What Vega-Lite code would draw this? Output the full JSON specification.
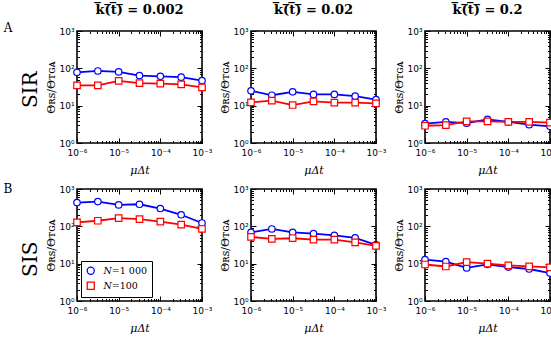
{
 "$schema": "https://vega.github.io/schema/vega-lite/v6.json",
 "padding": {"left": 3, "right": 0, "top": 3, "bottom": 0},
 "data": {"values": [
  {"model":"SIR","k":"0.002","N":"N=1 000","mu":1e-6,"theta":78},
  {"model":"SIR","k":"0.002","N":"N=1 000","mu":3.1623e-6,"theta":85},
  {"model":"SIR","k":"0.002","N":"N=1 000","mu":1e-5,"theta":80},
  {"model":"SIR","k":"0.002","N":"N=1 000","mu":3.1623e-5,"theta":64},
  {"model":"SIR","k":"0.002","N":"N=1 000","mu":1e-4,"theta":61},
  {"model":"SIR","k":"0.002","N":"N=1 000","mu":3.1623e-4,"theta":58},
  {"model":"SIR","k":"0.002","N":"N=1 000","mu":1e-3,"theta":47},
  {"model":"SIR","k":"0.002","N":"N=100","mu":1e-6,"theta":35},
  {"model":"SIR","k":"0.002","N":"N=100","mu":3.1623e-6,"theta":35},
  {"model":"SIR","k":"0.002","N":"N=100","mu":1e-5,"theta":46},
  {"model":"SIR","k":"0.002","N":"N=100","mu":3.1623e-5,"theta":40},
  {"model":"SIR","k":"0.002","N":"N=100","mu":1e-4,"theta":39},
  {"model":"SIR","k":"0.002","N":"N=100","mu":3.1623e-4,"theta":37},
  {"model":"SIR","k":"0.002","N":"N=100","mu":1e-3,"theta":31},
  {"model":"SIR","k":"0.02","N":"N=1 000","mu":1e-6,"theta":25},
  {"model":"SIR","k":"0.02","N":"N=1 000","mu":3.1623e-6,"theta":19},
  {"model":"SIR","k":"0.02","N":"N=1 000","mu":1e-5,"theta":23.5},
  {"model":"SIR","k":"0.02","N":"N=1 000","mu":3.1623e-5,"theta":20},
  {"model":"SIR","k":"0.02","N":"N=1 000","mu":1e-4,"theta":20},
  {"model":"SIR","k":"0.02","N":"N=1 000","mu":3.1623e-4,"theta":18},
  {"model":"SIR","k":"0.02","N":"N=1 000","mu":1e-3,"theta":14.5},
  {"model":"SIR","k":"0.02","N":"N=100","mu":1e-6,"theta":12.2},
  {"model":"SIR","k":"0.02","N":"N=100","mu":3.1623e-6,"theta":13.6},
  {"model":"SIR","k":"0.02","N":"N=100","mu":1e-5,"theta":10.4},
  {"model":"SIR","k":"0.02","N":"N=100","mu":3.1623e-5,"theta":13},
  {"model":"SIR","k":"0.02","N":"N=100","mu":1e-4,"theta":12},
  {"model":"SIR","k":"0.02","N":"N=100","mu":3.1623e-4,"theta":12},
  {"model":"SIR","k":"0.02","N":"N=100","mu":1e-3,"theta":11.5},
  {"model":"SIR","k":"0.2","N":"N=1 000","mu":1e-6,"theta":3.3},
  {"model":"SIR","k":"0.2","N":"N=1 000","mu":3.1623e-6,"theta":3.7},
  {"model":"SIR","k":"0.2","N":"N=1 000","mu":1e-5,"theta":3.4},
  {"model":"SIR","k":"0.2","N":"N=1 000","mu":3.1623e-5,"theta":4.3},
  {"model":"SIR","k":"0.2","N":"N=1 000","mu":1e-4,"theta":3.7},
  {"model":"SIR","k":"0.2","N":"N=1 000","mu":3.1623e-4,"theta":3.1},
  {"model":"SIR","k":"0.2","N":"N=1 000","mu":1e-3,"theta":2.8},
  {"model":"SIR","k":"0.2","N":"N=100","mu":1e-6,"theta":2.9},
  {"model":"SIR","k":"0.2","N":"N=100","mu":3.1623e-6,"theta":3.0},
  {"model":"SIR","k":"0.2","N":"N=100","mu":1e-5,"theta":3.8},
  {"model":"SIR","k":"0.2","N":"N=100","mu":3.1623e-5,"theta":3.8},
  {"model":"SIR","k":"0.2","N":"N=100","mu":1e-4,"theta":3.7},
  {"model":"SIR","k":"0.2","N":"N=100","mu":3.1623e-4,"theta":3.7},
  {"model":"SIR","k":"0.2","N":"N=100","mu":1e-3,"theta":3.5},
  {"model":"SIS","k":"0.002","N":"N=1 000","mu":1e-6,"theta":433},
  {"model":"SIS","k":"0.002","N":"N=1 000","mu":3.1623e-6,"theta":460},
  {"model":"SIS","k":"0.002","N":"N=1 000","mu":1e-5,"theta":375},
  {"model":"SIS","k":"0.002","N":"N=1 000","mu":3.1623e-5,"theta":390},
  {"model":"SIS","k":"0.002","N":"N=1 000","mu":1e-4,"theta":300},
  {"model":"SIS","k":"0.002","N":"N=1 000","mu":3.1623e-4,"theta":204},
  {"model":"SIS","k":"0.002","N":"N=1 000","mu":1e-3,"theta":123},
  {"model":"SIS","k":"0.002","N":"N=100","mu":1e-6,"theta":128},
  {"model":"SIS","k":"0.002","N":"N=100","mu":3.1623e-6,"theta":141},
  {"model":"SIS","k":"0.002","N":"N=100","mu":1e-5,"theta":166},
  {"model":"SIS","k":"0.002","N":"N=100","mu":3.1623e-5,"theta":156},
  {"model":"SIS","k":"0.002","N":"N=100","mu":1e-4,"theta":133},
  {"model":"SIS","k":"0.002","N":"N=100","mu":3.1623e-4,"theta":111},
  {"model":"SIS","k":"0.002","N":"N=100","mu":1e-3,"theta":85},
  {"model":"SIS","k":"0.02","N":"N=1 000","mu":1e-6,"theta":69},
  {"model":"SIS","k":"0.02","N":"N=1 000","mu":3.1623e-6,"theta":85},
  {"model":"SIS","k":"0.02","N":"N=1 000","mu":1e-5,"theta":69},
  {"model":"SIS","k":"0.02","N":"N=1 000","mu":3.1623e-5,"theta":64},
  {"model":"SIS","k":"0.02","N":"N=1 000","mu":1e-4,"theta":57},
  {"model":"SIS","k":"0.02","N":"N=1 000","mu":3.1623e-4,"theta":49},
  {"model":"SIS","k":"0.02","N":"N=1 000","mu":1e-3,"theta":32},
  {"model":"SIS","k":"0.02","N":"N=100","mu":1e-6,"theta":52},
  {"model":"SIS","k":"0.02","N":"N=100","mu":3.1623e-6,"theta":46},
  {"model":"SIS","k":"0.02","N":"N=100","mu":1e-5,"theta":48},
  {"model":"SIS","k":"0.02","N":"N=100","mu":3.1623e-5,"theta":44},
  {"model":"SIS","k":"0.02","N":"N=100","mu":1e-4,"theta":44},
  {"model":"SIS","k":"0.02","N":"N=100","mu":3.1623e-4,"theta":37},
  {"model":"SIS","k":"0.02","N":"N=100","mu":1e-3,"theta":30},
  {"model":"SIS","k":"0.2","N":"N=1 000","mu":1e-6,"theta":12.8},
  {"model":"SIS","k":"0.2","N":"N=1 000","mu":3.1623e-6,"theta":11.4},
  {"model":"SIS","k":"0.2","N":"N=1 000","mu":1e-5,"theta":7.7},
  {"model":"SIS","k":"0.2","N":"N=1 000","mu":3.1623e-5,"theta":9.6},
  {"model":"SIS","k":"0.2","N":"N=1 000","mu":1e-4,"theta":8.1},
  {"model":"SIS","k":"0.2","N":"N=1 000","mu":3.1623e-4,"theta":7.2},
  {"model":"SIS","k":"0.2","N":"N=1 000","mu":1e-3,"theta":5.6},
  {"model":"SIS","k":"0.2","N":"N=100","mu":1e-6,"theta":9.5},
  {"model":"SIS","k":"0.2","N":"N=100","mu":3.1623e-6,"theta":8.4},
  {"model":"SIS","k":"0.2","N":"N=100","mu":1e-5,"theta":11},
  {"model":"SIS","k":"0.2","N":"N=100","mu":3.1623e-5,"theta":10},
  {"model":"SIS","k":"0.2","N":"N=100","mu":1e-4,"theta":9},
  {"model":"SIS","k":"0.2","N":"N=100","mu":3.1623e-4,"theta":8.5},
  {"model":"SIS","k":"0.2","N":"N=100","mu":1e-3,"theta":8.0}
 ]},
 "config": {
  "view": {"stroke": "black", "strokeWidth": 1.6},
  "axis": {"grid": false, "domain": false, "tickColor": "black", "tickWidth": 1, "labelFont": "DejaVu Sans", "labelFontSize": 9, "labelColor": "black", "titleFont": "DejaVu Serif", "titleFontWeight": "normal", "titleFontSize": 11, "titleColor": "black", "labelOverlap": false, "labelFlush": false},
  "concat": {"spacing": 6},
  "title": {"font": "DejaVu Serif", "fontWeight": "bold", "fontSize": 13, "color": "black", "offset": 10}
 },
 "resolve": {"legend": {"color": "independent", "shape": "independent"}},
 "vconcat": [
  {
   "title": {"text": "A", "orient": "left", "anchor": "end", "angle": 0, "fontSize": 12, "fontWeight": "normal", "baseline": "top", "offset": 0, "dy": 20},
   "resolve": {"legend": {"color": "independent", "shape": "independent"}},
   "hconcat": [
    {
     "title": {"text": "SIR", "orient": "left", "anchor": "middle", "fontSize": 20, "fontWeight": "normal", "offset": 4},
     "resolve": {"legend": {"color": "independent", "shape": "independent"}},
     "hconcat": [
      {
       "width": 125, "height": 112,
       "title": {"text": "k\u0305(\u0305t\u0305)\u0305 = 0.002"},
       "transform": [{"filter": "datum.model == 'SIR' && datum.k == '0.002'"}],
       "resolve": {"axis": {"x": "independent", "y": "independent"}},
       "layer": [
        {"mark": {"type": "line", "strokeWidth": 1.8},
         "encoding": {
          "x": {"field": "mu", "type": "quantitative", "scale": {"type": "log", "domain": [1e-6, 1e-3], "nice": false}, "axis": {"orient": "bottom", "values": [1e-6,2e-6,3e-6,4e-6,5e-6,6e-6,7e-6,8e-6,9e-6,1e-5,2e-5,3e-5,4e-5,5e-5,6e-5,7e-5,8e-5,9e-5,1e-4,2e-4,3e-4,4e-4,5e-4,6e-4,7e-4,8e-4,9e-4,1e-3], "title": "μΔt", "titleFontStyle": "italic", "titlePadding": 5, "labelPadding": 10, "tickSize": {"condition": {"test": "abs(log(datum.value)/LN10 - round(log(datum.value)/LN10)) < 0.001", "value": -5}, "value": -2.5}, "labelExpr": "abs(log(datum.value)/LN10 - round(log(datum.value)/LN10)) < 0.001 ? '10' + (round(log(datum.value)/LN10) < 0 ? '⁻' : '') + substring('⁰¹²³⁴⁵⁶⁷⁸⁹', abs(round(log(datum.value)/LN10)), abs(round(log(datum.value)/LN10)) + 1) : ''"}},
          "y": {"field": "theta", "type": "quantitative", "scale": {"type": "log", "domain": [1, 1000], "nice": false}, "axis": {"orient": "left", "values": [1,2,3,4,5,6,7,8,9,10,20,30,40,50,60,70,80,90,100,200,300,400,500,600,700,800,900,1000], "title": "Θʀꜱ/Θᴛɢᴀ", "titlePadding": 2, "labelPadding": 8, "tickSize": {"condition": {"test": "abs(log(datum.value)/LN10 - round(log(datum.value)/LN10)) < 0.001", "value": -5}, "value": -2.5}, "labelExpr": "abs(log(datum.value)/LN10 - round(log(datum.value)/LN10)) < 0.001 ? '10' + (round(log(datum.value)/LN10) < 0 ? '⁻' : '') + substring('⁰¹²³⁴⁵⁶⁷⁸⁹', abs(round(log(datum.value)/LN10)), abs(round(log(datum.value)/LN10)) + 1) : ''"}},
          "color": {"field": "N", "type": "nominal", "scale": {"domain": ["N=1 000", "N=100"], "range": ["#0000ff", "#ff0000"]}, "legend": null}
         }},
        {"mark": {"type": "point", "filled": false, "fill": "white", "strokeWidth": 1.2, "size": 42, "opacity": 1},
         "encoding": {
          "x": {"field": "mu", "type": "quantitative", "scale": {"type": "log", "domain": [1e-6, 1e-3], "nice": false}, "axis": {"orient": "top", "values": [1e-6,2e-6,3e-6,4e-6,5e-6,6e-6,7e-6,8e-6,9e-6,1e-5,2e-5,3e-5,4e-5,5e-5,6e-5,7e-5,8e-5,9e-5,1e-4,2e-4,3e-4,4e-4,5e-4,6e-4,7e-4,8e-4,9e-4,1e-3], "labels": false, "title": null, "tickSize": {"condition": {"test": "abs(log(datum.value)/LN10 - round(log(datum.value)/LN10)) < 0.001", "value": -5}, "value": -2.5}}},
          "y": {"field": "theta", "type": "quantitative", "scale": {"type": "log", "domain": [1, 1000], "nice": false}, "axis": {"orient": "right", "values": [1,2,3,4,5,6,7,8,9,10,20,30,40,50,60,70,80,90,100,200,300,400,500,600,700,800,900,1000], "labels": false, "title": null, "tickSize": {"condition": {"test": "abs(log(datum.value)/LN10 - round(log(datum.value)/LN10)) < 0.001", "value": -5}, "value": -2.5}}},
          "color": {"field": "N", "type": "nominal", "scale": {"domain": ["N=1 000", "N=100"], "range": ["#0000ff", "#ff0000"]}, "legend": null},
          "shape": {"field": "N", "type": "nominal", "scale": {"domain": ["N=1 000", "N=100"], "range": ["circle", "square"]}, "legend": null}
         }}
       ]
      }
     ]
    },
    {
     "width": 125, "height": 112,
     "title": {"text": "k\u0305(\u0305t\u0305)\u0305 = 0.02"},
     "transform": [{"filter": "datum.model == 'SIR' && datum.k == '0.02'"}],
     "resolve": {"axis": {"x": "independent", "y": "independent"}},
     "layer": [
      {"mark": {"type": "line", "strokeWidth": 1.8},
       "encoding": {
        "x": {"field": "mu", "type": "quantitative", "scale": {"type": "log", "domain": [1e-6, 1e-3], "nice": false}, "axis": {"orient": "bottom", "values": [1e-6,2e-6,3e-6,4e-6,5e-6,6e-6,7e-6,8e-6,9e-6,1e-5,2e-5,3e-5,4e-5,5e-5,6e-5,7e-5,8e-5,9e-5,1e-4,2e-4,3e-4,4e-4,5e-4,6e-4,7e-4,8e-4,9e-4,1e-3], "title": "μΔt", "titleFontStyle": "italic", "titlePadding": 5, "labelPadding": 10, "tickSize": {"condition": {"test": "abs(log(datum.value)/LN10 - round(log(datum.value)/LN10)) < 0.001", "value": -5}, "value": -2.5}, "labelExpr": "abs(log(datum.value)/LN10 - round(log(datum.value)/LN10)) < 0.001 ? '10' + (round(log(datum.value)/LN10) < 0 ? '⁻' : '') + substring('⁰¹²³⁴⁵⁶⁷⁸⁹', abs(round(log(datum.value)/LN10)), abs(round(log(datum.value)/LN10)) + 1) : ''"}},
        "y": {"field": "theta", "type": "quantitative", "scale": {"type": "log", "domain": [1, 1000], "nice": false}, "axis": {"orient": "left", "values": [1,2,3,4,5,6,7,8,9,10,20,30,40,50,60,70,80,90,100,200,300,400,500,600,700,800,900,1000], "title": "Θʀꜱ/Θᴛɢᴀ", "titlePadding": 2, "labelPadding": 8, "tickSize": {"condition": {"test": "abs(log(datum.value)/LN10 - round(log(datum.value)/LN10)) < 0.001", "value": -5}, "value": -2.5}, "labelExpr": "abs(log(datum.value)/LN10 - round(log(datum.value)/LN10)) < 0.001 ? '10' + (round(log(datum.value)/LN10) < 0 ? '⁻' : '') + substring('⁰¹²³⁴⁵⁶⁷⁸⁹', abs(round(log(datum.value)/LN10)), abs(round(log(datum.value)/LN10)) + 1) : ''"}},
        "color": {"field": "N", "type": "nominal", "scale": {"domain": ["N=1 000", "N=100"], "range": ["#0000ff", "#ff0000"]}, "legend": null}
       }},
      {"mark": {"type": "point", "filled": false, "fill": "white", "strokeWidth": 1.2, "size": 42, "opacity": 1},
       "encoding": {
        "x": {"field": "mu", "type": "quantitative", "scale": {"type": "log", "domain": [1e-6, 1e-3], "nice": false}, "axis": {"orient": "top", "values": [1e-6,2e-6,3e-6,4e-6,5e-6,6e-6,7e-6,8e-6,9e-6,1e-5,2e-5,3e-5,4e-5,5e-5,6e-5,7e-5,8e-5,9e-5,1e-4,2e-4,3e-4,4e-4,5e-4,6e-4,7e-4,8e-4,9e-4,1e-3], "labels": false, "title": null, "tickSize": {"condition": {"test": "abs(log(datum.value)/LN10 - round(log(datum.value)/LN10)) < 0.001", "value": -5}, "value": -2.5}}},
        "y": {"field": "theta", "type": "quantitative", "scale": {"type": "log", "domain": [1, 1000], "nice": false}, "axis": {"orient": "right", "values": [1,2,3,4,5,6,7,8,9,10,20,30,40,50,60,70,80,90,100,200,300,400,500,600,700,800,900,1000], "labels": false, "title": null, "tickSize": {"condition": {"test": "abs(log(datum.value)/LN10 - round(log(datum.value)/LN10)) < 0.001", "value": -5}, "value": -2.5}}},
        "color": {"field": "N", "type": "nominal", "scale": {"domain": ["N=1 000", "N=100"], "range": ["#0000ff", "#ff0000"]}, "legend": null},
        "shape": {"field": "N", "type": "nominal", "scale": {"domain": ["N=1 000", "N=100"], "range": ["circle", "square"]}, "legend": null}
       }}
     ]
    },
    {
     "width": 125, "height": 112,
     "title": {"text": "k\u0305(\u0305t\u0305)\u0305 = 0.2"},
     "transform": [{"filter": "datum.model == 'SIR' && datum.k == '0.2'"}],
     "resolve": {"axis": {"x": "independent", "y": "independent"}},
     "layer": [
      {"mark": {"type": "line", "strokeWidth": 1.8},
       "encoding": {
        "x": {"field": "mu", "type": "quantitative", "scale": {"type": "log", "domain": [1e-6, 1e-3], "nice": false}, "axis": {"orient": "bottom", "values": [1e-6,2e-6,3e-6,4e-6,5e-6,6e-6,7e-6,8e-6,9e-6,1e-5,2e-5,3e-5,4e-5,5e-5,6e-5,7e-5,8e-5,9e-5,1e-4,2e-4,3e-4,4e-4,5e-4,6e-4,7e-4,8e-4,9e-4,1e-3], "title": "μΔt", "titleFontStyle": "italic", "titlePadding": 5, "labelPadding": 10, "tickSize": {"condition": {"test": "abs(log(datum.value)/LN10 - round(log(datum.value)/LN10)) < 0.001", "value": -5}, "value": -2.5}, "labelExpr": "abs(log(datum.value)/LN10 - round(log(datum.value)/LN10)) < 0.001 ? '10' + (round(log(datum.value)/LN10) < 0 ? '⁻' : '') + substring('⁰¹²³⁴⁵⁶⁷⁸⁹', abs(round(log(datum.value)/LN10)), abs(round(log(datum.value)/LN10)) + 1) : ''"}},
        "y": {"field": "theta", "type": "quantitative", "scale": {"type": "log", "domain": [1, 1000], "nice": false}, "axis": {"orient": "left", "values": [1,2,3,4,5,6,7,8,9,10,20,30,40,50,60,70,80,90,100,200,300,400,500,600,700,800,900,1000], "title": "Θʀꜱ/Θᴛɢᴀ", "titlePadding": 2, "labelPadding": 8, "tickSize": {"condition": {"test": "abs(log(datum.value)/LN10 - round(log(datum.value)/LN10)) < 0.001", "value": -5}, "value": -2.5}, "labelExpr": "abs(log(datum.value)/LN10 - round(log(datum.value)/LN10)) < 0.001 ? '10' + (round(log(datum.value)/LN10) < 0 ? '⁻' : '') + substring('⁰¹²³⁴⁵⁶⁷⁸⁹', abs(round(log(datum.value)/LN10)), abs(round(log(datum.value)/LN10)) + 1) : ''"}},
        "color": {"field": "N", "type": "nominal", "scale": {"domain": ["N=1 000", "N=100"], "range": ["#0000ff", "#ff0000"]}, "legend": null}
       }},
      {"mark": {"type": "point", "filled": false, "fill": "white", "strokeWidth": 1.2, "size": 42, "opacity": 1},
       "encoding": {
        "x": {"field": "mu", "type": "quantitative", "scale": {"type": "log", "domain": [1e-6, 1e-3], "nice": false}, "axis": {"orient": "top", "values": [1e-6,2e-6,3e-6,4e-6,5e-6,6e-6,7e-6,8e-6,9e-6,1e-5,2e-5,3e-5,4e-5,5e-5,6e-5,7e-5,8e-5,9e-5,1e-4,2e-4,3e-4,4e-4,5e-4,6e-4,7e-4,8e-4,9e-4,1e-3], "labels": false, "title": null, "tickSize": {"condition": {"test": "abs(log(datum.value)/LN10 - round(log(datum.value)/LN10)) < 0.001", "value": -5}, "value": -2.5}}},
        "y": {"field": "theta", "type": "quantitative", "scale": {"type": "log", "domain": [1, 1000], "nice": false}, "axis": {"orient": "right", "values": [1,2,3,4,5,6,7,8,9,10,20,30,40,50,60,70,80,90,100,200,300,400,500,600,700,800,900,1000], "labels": false, "title": null, "tickSize": {"condition": {"test": "abs(log(datum.value)/LN10 - round(log(datum.value)/LN10)) < 0.001", "value": -5}, "value": -2.5}}},
        "color": {"field": "N", "type": "nominal", "scale": {"domain": ["N=1 000", "N=100"], "range": ["#0000ff", "#ff0000"]}, "legend": null},
        "shape": {"field": "N", "type": "nominal", "scale": {"domain": ["N=1 000", "N=100"], "range": ["circle", "square"]}, "legend": null}
       }}
     ]
    }
   ]
  },
  {
   "title": {"text": "B", "orient": "left", "anchor": "end", "angle": 0, "fontSize": 12, "fontWeight": "normal", "baseline": "top", "offset": 0, "dy": 0},
   "resolve": {"legend": {"color": "independent", "shape": "independent"}},
   "hconcat": [
    {
     "title": {"text": "SIS", "orient": "left", "anchor": "middle", "fontSize": 20, "fontWeight": "normal", "offset": 4},
     "resolve": {"legend": {"color": "independent", "shape": "independent"}},
     "hconcat": [
      {
       "width": 125, "height": 112,
       "transform": [{"filter": "datum.model == 'SIS' && datum.k == '0.002'"}],
       "resolve": {"axis": {"x": "independent", "y": "independent"}},
       "layer": [
        {"mark": {"type": "line", "strokeWidth": 1.8},
         "encoding": {
          "x": {"field": "mu", "type": "quantitative", "scale": {"type": "log", "domain": [1e-6, 1e-3], "nice": false}, "axis": {"orient": "bottom", "values": [1e-6,2e-6,3e-6,4e-6,5e-6,6e-6,7e-6,8e-6,9e-6,1e-5,2e-5,3e-5,4e-5,5e-5,6e-5,7e-5,8e-5,9e-5,1e-4,2e-4,3e-4,4e-4,5e-4,6e-4,7e-4,8e-4,9e-4,1e-3], "title": "μΔt", "titleFontStyle": "italic", "titlePadding": 5, "labelPadding": 10, "tickSize": {"condition": {"test": "abs(log(datum.value)/LN10 - round(log(datum.value)/LN10)) < 0.001", "value": -5}, "value": -2.5}, "labelExpr": "abs(log(datum.value)/LN10 - round(log(datum.value)/LN10)) < 0.001 ? '10' + (round(log(datum.value)/LN10) < 0 ? '⁻' : '') + substring('⁰¹²³⁴⁵⁶⁷⁸⁹', abs(round(log(datum.value)/LN10)), abs(round(log(datum.value)/LN10)) + 1) : ''"}},
          "y": {"field": "theta", "type": "quantitative", "scale": {"type": "log", "domain": [1, 1000], "nice": false}, "axis": {"orient": "left", "values": [1,2,3,4,5,6,7,8,9,10,20,30,40,50,60,70,80,90,100,200,300,400,500,600,700,800,900,1000], "title": "Θʀꜱ/Θᴛɢᴀ", "titlePadding": 2, "labelPadding": 8, "tickSize": {"condition": {"test": "abs(log(datum.value)/LN10 - round(log(datum.value)/LN10)) < 0.001", "value": -5}, "value": -2.5}, "labelExpr": "abs(log(datum.value)/LN10 - round(log(datum.value)/LN10)) < 0.001 ? '10' + (round(log(datum.value)/LN10) < 0 ? '⁻' : '') + substring('⁰¹²³⁴⁵⁶⁷⁸⁹', abs(round(log(datum.value)/LN10)), abs(round(log(datum.value)/LN10)) + 1) : ''"}},
          "color": {"field": "N", "type": "nominal", "scale": {"domain": ["N=1 000", "N=100"], "range": ["#0000ff", "#ff0000"]}}
         }},
        {"mark": {"type": "point", "filled": false, "fill": "white", "strokeWidth": 1.2, "size": 42, "opacity": 1},
         "encoding": {
          "x": {"field": "mu", "type": "quantitative", "scale": {"type": "log", "domain": [1e-6, 1e-3], "nice": false}, "axis": {"orient": "top", "values": [1e-6,2e-6,3e-6,4e-6,5e-6,6e-6,7e-6,8e-6,9e-6,1e-5,2e-5,3e-5,4e-5,5e-5,6e-5,7e-5,8e-5,9e-5,1e-4,2e-4,3e-4,4e-4,5e-4,6e-4,7e-4,8e-4,9e-4,1e-3], "labels": false, "title": null, "tickSize": {"condition": {"test": "abs(log(datum.value)/LN10 - round(log(datum.value)/LN10)) < 0.001", "value": -5}, "value": -2.5}}},
          "y": {"field": "theta", "type": "quantitative", "scale": {"type": "log", "domain": [1, 1000], "nice": false}, "axis": {"orient": "right", "values": [1,2,3,4,5,6,7,8,9,10,20,30,40,50,60,70,80,90,100,200,300,400,500,600,700,800,900,1000], "labels": false, "title": null, "tickSize": {"condition": {"test": "abs(log(datum.value)/LN10 - round(log(datum.value)/LN10)) < 0.001", "value": -5}, "value": -2.5}}},
          "color": {"field": "N", "type": "nominal", "scale": {"domain": ["N=1 000", "N=100"], "range": ["#0000ff", "#ff0000"]}, "legend": {"orient": "bottom-left", "offset": 4, "title": null, "strokeColor": "black", "fillColor": "white", "padding": 5, "symbolSize": 50, "symbolStrokeWidth": 1.3, "symbolFillColor": "white", "labelFont": "DejaVu Serif", "labelFontSize": 9.5, "labelColor": "black", "rowPadding": 2, "labelOffset": 8, "labelExpr": "'𝑁' + substring(datum.label, 1)"}},
          "shape": {"field": "N", "type": "nominal", "scale": {"domain": ["N=1 000", "N=100"], "range": ["circle", "square"]}, "legend": {"orient": "bottom-left", "offset": 4, "title": null, "strokeColor": "black", "fillColor": "white", "padding": 5, "symbolSize": 50, "symbolStrokeWidth": 1.3, "symbolFillColor": "white", "labelFont": "DejaVu Serif", "labelFontSize": 9.5, "labelColor": "black", "rowPadding": 2, "labelOffset": 8, "labelExpr": "'𝑁' + substring(datum.label, 1)"}}
         }}
       ]
      }
     ]
    },
    {
     "width": 125, "height": 112,
     "transform": [{"filter": "datum.model == 'SIS' && datum.k == '0.02'"}],
     "resolve": {"axis": {"x": "independent", "y": "independent"}},
     "layer": [
      {"mark": {"type": "line", "strokeWidth": 1.8},
       "encoding": {
        "x": {"field": "mu", "type": "quantitative", "scale": {"type": "log", "domain": [1e-6, 1e-3], "nice": false}, "axis": {"orient": "bottom", "values": [1e-6,2e-6,3e-6,4e-6,5e-6,6e-6,7e-6,8e-6,9e-6,1e-5,2e-5,3e-5,4e-5,5e-5,6e-5,7e-5,8e-5,9e-5,1e-4,2e-4,3e-4,4e-4,5e-4,6e-4,7e-4,8e-4,9e-4,1e-3], "title": "μΔt", "titleFontStyle": "italic", "titlePadding": 5, "labelPadding": 10, "tickSize": {"condition": {"test": "abs(log(datum.value)/LN10 - round(log(datum.value)/LN10)) < 0.001", "value": -5}, "value": -2.5}, "labelExpr": "abs(log(datum.value)/LN10 - round(log(datum.value)/LN10)) < 0.001 ? '10' + (round(log(datum.value)/LN10) < 0 ? '⁻' : '') + substring('⁰¹²³⁴⁵⁶⁷⁸⁹', abs(round(log(datum.value)/LN10)), abs(round(log(datum.value)/LN10)) + 1) : ''"}},
        "y": {"field": "theta", "type": "quantitative", "scale": {"type": "log", "domain": [1, 1000], "nice": false}, "axis": {"orient": "left", "values": [1,2,3,4,5,6,7,8,9,10,20,30,40,50,60,70,80,90,100,200,300,400,500,600,700,800,900,1000], "title": "Θʀꜱ/Θᴛɢᴀ", "titlePadding": 2, "labelPadding": 8, "tickSize": {"condition": {"test": "abs(log(datum.value)/LN10 - round(log(datum.value)/LN10)) < 0.001", "value": -5}, "value": -2.5}, "labelExpr": "abs(log(datum.value)/LN10 - round(log(datum.value)/LN10)) < 0.001 ? '10' + (round(log(datum.value)/LN10) < 0 ? '⁻' : '') + substring('⁰¹²³⁴⁵⁶⁷⁸⁹', abs(round(log(datum.value)/LN10)), abs(round(log(datum.value)/LN10)) + 1) : ''"}},
        "color": {"field": "N", "type": "nominal", "scale": {"domain": ["N=1 000", "N=100"], "range": ["#0000ff", "#ff0000"]}, "legend": null}
       }},
      {"mark": {"type": "point", "filled": false, "fill": "white", "strokeWidth": 1.2, "size": 42, "opacity": 1},
       "encoding": {
        "x": {"field": "mu", "type": "quantitative", "scale": {"type": "log", "domain": [1e-6, 1e-3], "nice": false}, "axis": {"orient": "top", "values": [1e-6,2e-6,3e-6,4e-6,5e-6,6e-6,7e-6,8e-6,9e-6,1e-5,2e-5,3e-5,4e-5,5e-5,6e-5,7e-5,8e-5,9e-5,1e-4,2e-4,3e-4,4e-4,5e-4,6e-4,7e-4,8e-4,9e-4,1e-3], "labels": false, "title": null, "tickSize": {"condition": {"test": "abs(log(datum.value)/LN10 - round(log(datum.value)/LN10)) < 0.001", "value": -5}, "value": -2.5}}},
        "y": {"field": "theta", "type": "quantitative", "scale": {"type": "log", "domain": [1, 1000], "nice": false}, "axis": {"orient": "right", "values": [1,2,3,4,5,6,7,8,9,10,20,30,40,50,60,70,80,90,100,200,300,400,500,600,700,800,900,1000], "labels": false, "title": null, "tickSize": {"condition": {"test": "abs(log(datum.value)/LN10 - round(log(datum.value)/LN10)) < 0.001", "value": -5}, "value": -2.5}}},
        "color": {"field": "N", "type": "nominal", "scale": {"domain": ["N=1 000", "N=100"], "range": ["#0000ff", "#ff0000"]}, "legend": null},
        "shape": {"field": "N", "type": "nominal", "scale": {"domain": ["N=1 000", "N=100"], "range": ["circle", "square"]}, "legend": null}
       }}
     ]
    },
    {
     "width": 125, "height": 112,
     "transform": [{"filter": "datum.model == 'SIS' && datum.k == '0.2'"}],
     "resolve": {"axis": {"x": "independent", "y": "independent"}},
     "layer": [
      {"mark": {"type": "line", "strokeWidth": 1.8},
       "encoding": {
        "x": {"field": "mu", "type": "quantitative", "scale": {"type": "log", "domain": [1e-6, 1e-3], "nice": false}, "axis": {"orient": "bottom", "values": [1e-6,2e-6,3e-6,4e-6,5e-6,6e-6,7e-6,8e-6,9e-6,1e-5,2e-5,3e-5,4e-5,5e-5,6e-5,7e-5,8e-5,9e-5,1e-4,2e-4,3e-4,4e-4,5e-4,6e-4,7e-4,8e-4,9e-4,1e-3], "title": "μΔt", "titleFontStyle": "italic", "titlePadding": 5, "labelPadding": 10, "tickSize": {"condition": {"test": "abs(log(datum.value)/LN10 - round(log(datum.value)/LN10)) < 0.001", "value": -5}, "value": -2.5}, "labelExpr": "abs(log(datum.value)/LN10 - round(log(datum.value)/LN10)) < 0.001 ? '10' + (round(log(datum.value)/LN10) < 0 ? '⁻' : '') + substring('⁰¹²³⁴⁵⁶⁷⁸⁹', abs(round(log(datum.value)/LN10)), abs(round(log(datum.value)/LN10)) + 1) : ''"}},
        "y": {"field": "theta", "type": "quantitative", "scale": {"type": "log", "domain": [1, 1000], "nice": false}, "axis": {"orient": "left", "values": [1,2,3,4,5,6,7,8,9,10,20,30,40,50,60,70,80,90,100,200,300,400,500,600,700,800,900,1000], "title": "Θʀꜱ/Θᴛɢᴀ", "titlePadding": 2, "labelPadding": 8, "tickSize": {"condition": {"test": "abs(log(datum.value)/LN10 - round(log(datum.value)/LN10)) < 0.001", "value": -5}, "value": -2.5}, "labelExpr": "abs(log(datum.value)/LN10 - round(log(datum.value)/LN10)) < 0.001 ? '10' + (round(log(datum.value)/LN10) < 0 ? '⁻' : '') + substring('⁰¹²³⁴⁵⁶⁷⁸⁹', abs(round(log(datum.value)/LN10)), abs(round(log(datum.value)/LN10)) + 1) : ''"}},
        "color": {"field": "N", "type": "nominal", "scale": {"domain": ["N=1 000", "N=100"], "range": ["#0000ff", "#ff0000"]}, "legend": null}
       }},
      {"mark": {"type": "point", "filled": false, "fill": "white", "strokeWidth": 1.2, "size": 42, "opacity": 1},
       "encoding": {
        "x": {"field": "mu", "type": "quantitative", "scale": {"type": "log", "domain": [1e-6, 1e-3], "nice": false}, "axis": {"orient": "top", "values": [1e-6,2e-6,3e-6,4e-6,5e-6,6e-6,7e-6,8e-6,9e-6,1e-5,2e-5,3e-5,4e-5,5e-5,6e-5,7e-5,8e-5,9e-5,1e-4,2e-4,3e-4,4e-4,5e-4,6e-4,7e-4,8e-4,9e-4,1e-3], "labels": false, "title": null, "tickSize": {"condition": {"test": "abs(log(datum.value)/LN10 - round(log(datum.value)/LN10)) < 0.001", "value": -5}, "value": -2.5}}},
        "y": {"field": "theta", "type": "quantitative", "scale": {"type": "log", "domain": [1, 1000], "nice": false}, "axis": {"orient": "right", "values": [1,2,3,4,5,6,7,8,9,10,20,30,40,50,60,70,80,90,100,200,300,400,500,600,700,800,900,1000], "labels": false, "title": null, "tickSize": {"condition": {"test": "abs(log(datum.value)/LN10 - round(log(datum.value)/LN10)) < 0.001", "value": -5}, "value": -2.5}}},
        "color": {"field": "N", "type": "nominal", "scale": {"domain": ["N=1 000", "N=100"], "range": ["#0000ff", "#ff0000"]}, "legend": null},
        "shape": {"field": "N", "type": "nominal", "scale": {"domain": ["N=1 000", "N=100"], "range": ["circle", "square"]}, "legend": null}
       }}
     ]
    }
   ]
  }
 ]
}
